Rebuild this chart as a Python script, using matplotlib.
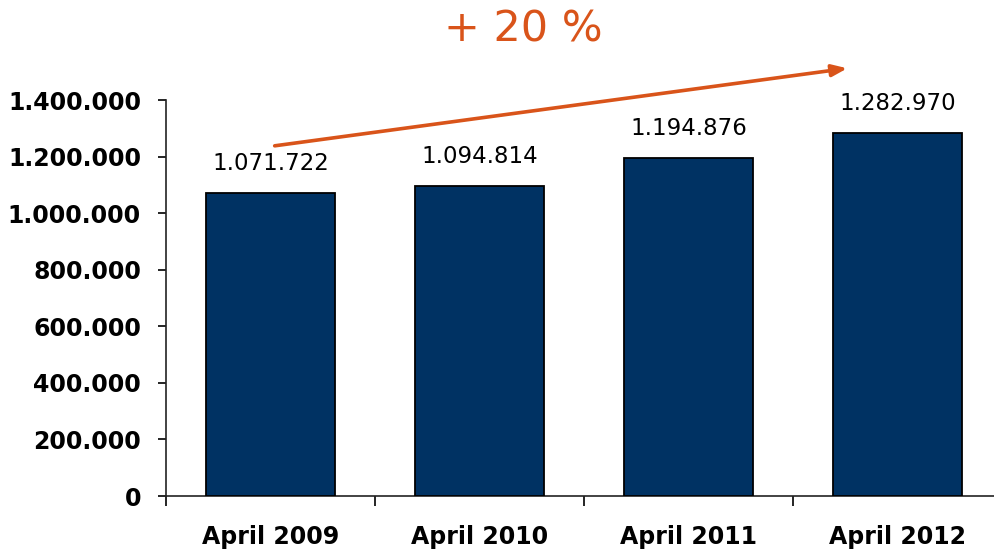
import matplotlib
matplotlib.use("Agg")
import matplotlib.pyplot as plt
from matplotlib.ticker import FuncFormatter

categories = ["April 2009", "April 2010", "April 2011", "April 2012"]
values = [1071722, 1094814, 1194876, 1282970]
value_labels = ["1.071.722", "1.094.814", "1.194.876", "1.282.970"]
yticks = [0, 200000, 400000, 600000, 800000, 1000000, 1200000, 1400000]
growth_label = "+ 20 %"

plt.rcParams['font.family'] = ['DejaVu Sans']

W, H = 994, 551
fig = plt.figure(figsize=(W / 100, H / 100), dpi=100)
left, right, bottom, top = 166, 1002, 496, 100
ax = fig.add_axes([left / W, (H - bottom) / H, (right - left) / W, (bottom - top) / H])

x = list(range(len(categories)))
ax.bar(x, values, width=0.62, color="#003263", edgecolor="black", linewidth=1.3, zorder=3)
ax.set_xlim(-0.5, len(categories) - 0.5)
ax.set_ylim(0, 1400000)

for xi, v, lab in zip(x, values, value_labels):
    ax.annotate(lab, (xi, v), xytext=(0, 13), textcoords="offset points",
                ha="center", va="bottom", fontsize=16.5, color="black")

ax.set_yticks(yticks)
ax.yaxis.set_major_formatter(FuncFormatter(lambda v, p: f"{int(v):,}".replace(",", ".")))
ax.tick_params(axis="y", direction="out", length=6, width=1.2, pad=12, labelsize=17)
for t in ax.get_yticklabels():
    t.set_fontweight("bold")

ax.set_xticks([i + 0.5 for i in range(-1, len(categories))], minor=False)
ax.set_xticklabels([])
ax.set_xticks(x, minor=True)
ax.set_xticklabels(categories, minor=True, fontsize=17, fontweight="bold")
ax.tick_params(axis="x", which="major", direction="out", length=7, width=1.2)
ax.tick_params(axis="x", which="minor", length=0, pad=21)

for s in ["top", "right"]:
    ax.spines[s].set_visible(False)
for s in ["left", "bottom"]:
    ax.spines[s].set_linewidth(1.2)
    ax.spines[s].set_color("#222222")

orange = "#D9541A"
ax.annotate("", xy=(2.76, 1512000), xytext=(0.02, 1238000),
            arrowprops=dict(arrowstyle="-|>,head_length=0.9,head_width=0.35",
                            color=orange, lw=2.6, shrinkA=0, shrinkB=0),
            annotation_clip=False)
fig.text(523 / W, 1 - 30 / H, growth_label, ha="center", va="center",
         fontsize=31, color=orange)

fig.savefig("out.png", dpi=100)
